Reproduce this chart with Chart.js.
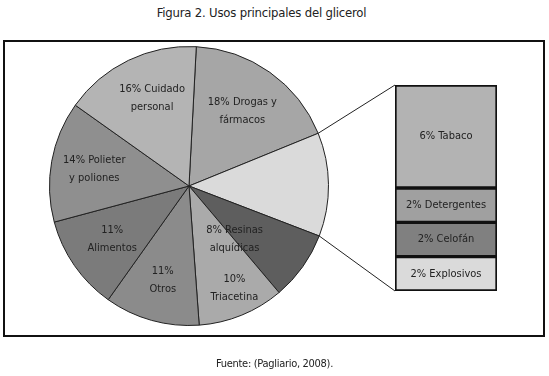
<!DOCTYPE html>
<html>
<head>
<meta charset="utf-8">
<script src="https://cdn.jsdelivr.net/npm/chart.js@4/dist/chart.umd.min.js"></script>
<style>
  body { margin: 0; width: 549px; height: 376px; background: #fff; position: relative; overflow: hidden;
         font-family: "DejaVu Sans Condensed", "DejaVu Sans", sans-serif; font-stretch: condensed; color: #222; }
  #title { position: absolute; left: 0; top: 5px; width: 523px; text-align: center; font-size: 13px; letter-spacing: -0.2px; }
  #frame { position: absolute; left: 3px; top: 40px; width: 538px; height: 293px; border: 2px solid #111; }
  #pieWrap { position: absolute; left: 49px; top: 46px; width: 280px; height: 280px; }
  #barWrap { position: absolute; left: 394px; top: 84px; width: 104px; height: 208px; }
  #links { position: absolute; left: 0; top: 0; width: 549px; height: 376px; pointer-events: none; }
  #source { position: absolute; left: 0; top: 357px; width: 549px; text-align: center; font-size: 11px; letter-spacing: -0.3px; }
</style>
</head>
<body>
<div id="title">Figura 2. Usos principales del glicerol</div>
<div id="frame"></div>
<div id="pieWrap"><canvas id="pie"></canvas></div>
<div id="barWrap"><canvas id="bar"></canvas></div>
<canvas id="links" width="549" height="376"></canvas>
<div id="source">Fuente: (Pagliario, 2008).</div>
<script>
// datos del pastel (sentido horario desde arriba)
var pieLabels = [['18% Drogas y', 'fármacos'], [], ['8% Resinas', 'alquídicas'], ['10%', 'Triacetina'],
                 ['11%', 'Otros'], ['11%', 'Alimentos'], ['14% Polieter', 'y poliones'], ['16% Cuidado', 'personal']];
var pieValues = [18, 12, 8, 10, 11, 11, 14, 16];
var pieColors = ['#a6a6a6', '#dadada', '#5e5e5e', '#aaaaaa', '#8b8b8b', '#7b7b7b', '#8f8f8f', '#b4b4b4'];

// desglose del 12% (de abajo hacia arriba)
var barLabels = ['2% Explosivos', '2% Celofán', '2% Detergentes', '6% Tabaco'];
var barValues = [2, 2, 2, 6];
var barColors = ['#dadada', '#808080', '#a0a0a0', '#b3b3b3'];

var FONT = '"DejaVu Sans Condensed", "DejaVu Sans", sans-serif';
// posicion de cada etiqueta: [fraccion del radio, fraccion del angulo]
var labelPos = [[0.66, 0.5], [0.6, 0.5], [0.5, 0.98], [0.8, 0.45], [0.7, 0.5], [0.67, 0.5], [0.69, 0.5], [0.68, 0.55]];

var pieLabelPlugin = {
    id: 'pieLabels',
    afterDatasetsDraw: function(chart){
        var ctx = chart.ctx;
        var arcs = chart.getDatasetMeta(0).data;
        ctx.save();
        ctx.fillStyle = '#222';
        ctx.font = 'condensed 11px ' + FONT;
        ctx.textAlign = 'center';
        ctx.textBaseline = 'middle';
        arcs.forEach(function(arc, i){
            var lines = pieLabels[i];
            if(!lines.length) return;
            var p = labelPos[i];
            var a = arc.startAngle + (arc.endAngle - arc.startAngle) * p[1];
            var r = arc.outerRadius * p[0];
            var x = arc.x + Math.cos(a) * r;
            var y = arc.y + Math.sin(a) * r;
            lines.forEach(function(t, k){
                ctx.fillText(t, x, y + (k - (lines.length - 1) / 2) * 18);
            });
        });
        ctx.restore();
    }
};

var barLabelPlugin = {
    id: 'barLabels',
    afterDatasetsDraw: function(chart){
        var ctx = chart.ctx;
        ctx.save();
        ctx.fillStyle = '#222';
        ctx.font = 'condensed 11px ' + FONT;
        ctx.textAlign = 'center';
        ctx.textBaseline = 'middle';
        chart.data.datasets.forEach(function(ds, i){
            var el = chart.getDatasetMeta(i).data[0];
            ctx.fillText(barLabels[i], el.x, (el.y + el.base) / 2);
        });
        ctx.restore();
    }
};

var pieChart = new Chart(document.getElementById('pie'), {
    type: 'pie',
    data: {
        labels: pieLabels.map(function(l){ return l.join(' '); }),
        datasets: [{
            data: pieValues,
            backgroundColor: pieColors,
            borderColor: '#222',
            borderWidth: 1,
            rotation: 3
        }]
    },
    options: {
        responsive: true,
        maintainAspectRatio: false,
        animation: false,
        layout: { padding: 0 },
        plugins: { legend: { display: false }, tooltip: { enabled: false } }
    },
    plugins: [pieLabelPlugin]
});

var barChart = new Chart(document.getElementById('bar'), {
    type: 'bar',
    data: {
        labels: [''],
        datasets: barValues.map(function(v, i){
            return {
                label: barLabels[i],
                data: [v],
                backgroundColor: barColors[i],
                borderColor: '#111',
                borderWidth: 2,
                borderSkipped: false,
                categoryPercentage: 1,
                barPercentage: 1
            };
        })
    },
    options: {
        responsive: true,
        maintainAspectRatio: false,
        animation: false,
        layout: { padding: 1 },
        scales: {
            x: { stacked: true, display: false },
            y: { stacked: true, display: false, min: 0, max: 12 }
        },
        plugins: { legend: { display: false }, tooltip: { enabled: false } }
    },
    plugins: [barLabelPlugin]
});

// lineas que unen el sector del 12% con la barra
function drawLinks(){
    var cv = document.getElementById('links');
    var ctx = cv.getContext('2d');
    var pr = pieChart.canvas.getBoundingClientRect();
    var br = barChart.canvas.getBoundingClientRect();
    var arc = pieChart.getDatasetMeta(0).data[1];
    var n = barValues.length;
    var top = barChart.getDatasetMeta(n - 1).data[0];
    var bottom = barChart.getDatasetMeta(0).data[0];
    var p1 = [pr.left + arc.x + Math.cos(arc.startAngle) * arc.outerRadius, pr.top + arc.y + Math.sin(arc.startAngle) * arc.outerRadius];
    var p2 = [pr.left + arc.x + Math.cos(arc.endAngle) * arc.outerRadius, pr.top + arc.y + Math.sin(arc.endAngle) * arc.outerRadius];
    var bx = br.left + top.x - top.width / 2;
    ctx.strokeStyle = '#222';
    ctx.lineWidth = 1;
    ctx.beginPath();
    ctx.moveTo(p1[0], p1[1]);
    ctx.lineTo(bx, br.top + top.y);
    ctx.moveTo(p2[0], p2[1]);
    ctx.lineTo(bx, br.top + bottom.base);
    ctx.stroke();
}
drawLinks();
</script>
</body>
</html>
